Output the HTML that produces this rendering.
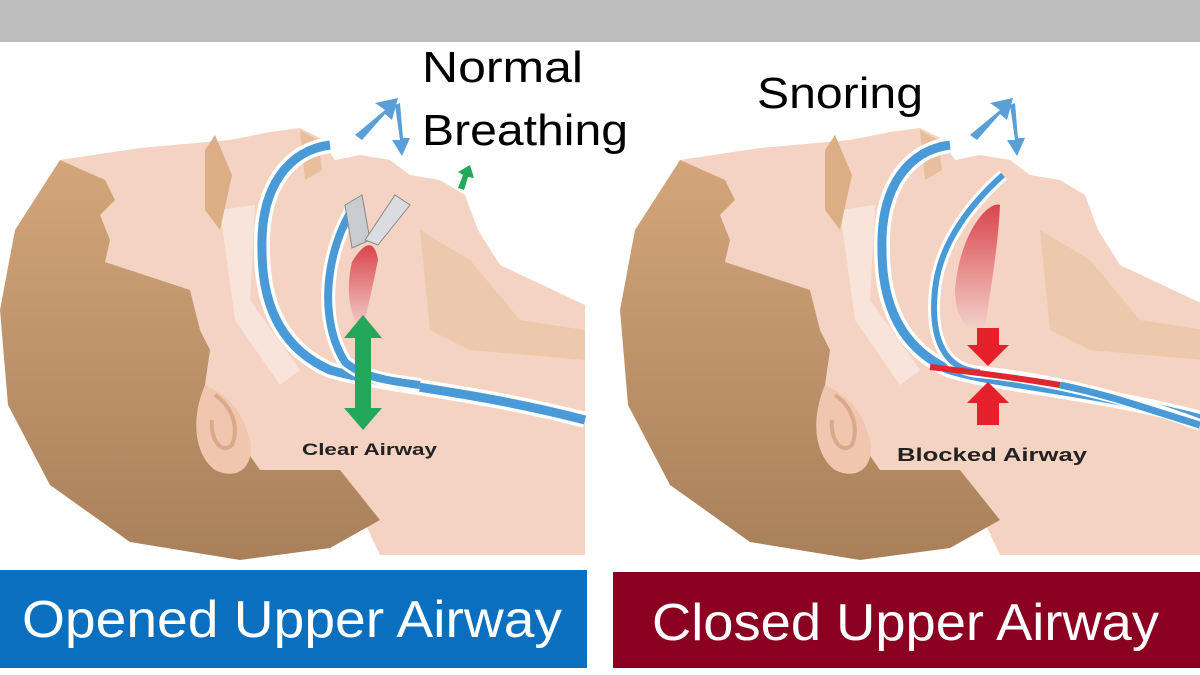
<!DOCTYPE html>
<html><head><meta charset="utf-8"><style>
html,body{margin:0;padding:0;background:#fff;width:1200px;height:675px;overflow:hidden}
svg{display:block}
</style></head><body>
<svg width="1200" height="675" viewBox="0 0 1200 675" xmlns="http://www.w3.org/2000/svg">
<defs>
<linearGradient id="hair" x1="0" y1="0" x2="0" y2="1"><stop offset="0" stop-color="#d3a57a"/><stop offset="1" stop-color="#a8805a"/></linearGradient>
<linearGradient id="red" x1="0" y1="0" x2="0" y2="1"><stop offset="0" stop-color="#d9454c"/><stop offset="1" stop-color="#f3d3cc"/></linearGradient>
<g id="head">
  <path d="M60,160 L140,148 L230,140 L270,132 L300,128 L320,138 L335,160 L360,155 L390,160 L410,175 L440,180 L465,195 L478,230 L500,265 L585,305 L585,555 L380,555 L340,470 L200,480 L100,300 Z" fill="#f5d3c3"/>
  <path d="M420,230 L470,260 L520,320 L585,330 L585,360 L470,350 L430,330 Z" fill="#ecc9ac"/>
  <path d="M220,210 L255,205 L250,300 L300,370 L280,385 L235,320 Z" fill="#f9e4dc"/>
  <path d="M60,160 L105,180 L115,200 L100,215 L110,240 L105,262 L190,290 L200,330 L210,350 L205,385 L225,420 L260,470 L340,470 L380,520 L330,548 L240,560 L130,542 L50,485 L8,405 L0,310 L15,230 Z" fill="url(#hair)"/>
  <path d="M205,385 C215,390 240,400 250,440 C255,470 235,480 215,470 C195,455 190,420 205,385 Z" fill="#f0c6ae"/>
  <path d="M215,395 C230,405 240,425 232,445 C222,455 210,440 212,420" fill="none" stroke="#d9a98a" stroke-width="4"/>
  <path d="M205,150 L215,135 L232,175 L220,230 L205,210 Z" fill="#dcae86"/>
  <path d="M300,130 L318,140 L322,170 L305,180 Z" fill="#e8bf9d"/>
  <path d="M330,145 C290,150 260,185 262,250 C262,310 285,350 330,370 C380,385 470,390 585,420" fill="none" stroke="#fff" stroke-width="16"/>
  <path d="M330,145 C290,150 260,185 262,250 C262,310 285,350 330,370 C380,385 470,390 585,420" fill="none" stroke="#4a9ad8" stroke-width="9"/>
</g>
</defs>

<rect x="0" y="0" width="1200" height="42" fill="#bdbdbd"/>

<use href="#head"/>
<path d="M355,205 C325,250 318,320 345,362 C360,375 380,380 420,385" fill="none" stroke="#fff" stroke-width="14"/>
<path d="M355,205 C325,250 318,320 345,362 C360,375 380,380 420,385" fill="none" stroke="#4a9ad8" stroke-width="8"/>
<path d="M352,262 C365,240 375,240 378,260 C372,290 365,320 362,330 C350,320 345,290 352,262 Z" fill="url(#red)"/>
<path d="M345,205 L362,195 L370,240 L352,248 Z" fill="#c9ccd0" stroke="#888" stroke-width="1"/>
<path d="M395,195 L410,205 L378,245 L365,240 Z" fill="#dadcdf" stroke="#888" stroke-width="1"/>
<path d="M355,135 L385,110 L375,103 L398,98 L392,120 L385,114 L362,140 Z" fill="#5a9fd8"/>
<path d="M395,105 L400,140 L392,140 L402,156 L410,138 L403,138 L400,103 Z" fill="#5a9fd8"/>
<path d="M458,188 L463,175 L458,172 L470,165 L474,178 L468,177 L464,190 Z" fill="#23a85b"/>
<path d="M363,315 L382,338 L371,338 L371,408 L382,408 L363,430 L344,408 L355,408 L355,338 L344,338 Z" fill="#23a85b"/>
<text x="302" y="455" font-family="Liberation Sans, sans-serif" font-weight="bold" font-size="17" fill="#222" textLength="135" lengthAdjust="spacingAndGlyphs">Clear Airway</text>
<text x="422" y="82" font-family="Liberation Sans, sans-serif" font-size="44" fill="#000" textLength="161" lengthAdjust="spacingAndGlyphs">Normal</text>
<text x="422" y="145" font-family="Liberation Sans, sans-serif" font-size="44" fill="#000" textLength="206" lengthAdjust="spacingAndGlyphs">Breathing</text>

<g transform="translate(620,0)"><use href="#head"/></g>
<path d="M1003,175 C975,200 940,240 935,290 C930,340 945,370 980,372 C1040,378 1120,395 1200,425" fill="none" stroke="#fff" stroke-width="12"/>
<path d="M1003,175 C975,200 940,240 935,290 C930,340 945,370 980,372" fill="none" stroke="#4a9ad8" stroke-width="6"/>
<path d="M930,367 C970,372 1000,375 1060,385" fill="none" stroke="#e0262e" stroke-width="6"/>
<path d="M1060,385 C1110,395 1150,410 1200,425" fill="none" stroke="#4a9ad8" stroke-width="7"/>
<path d="M955,290 C960,230 990,200 1000,205 C998,250 990,290 985,330 C970,335 955,320 955,290 Z" fill="url(#red)"/>
<path d="M970,135 L1000,110 L990,103 L1013,98 L1007,120 L1000,114 L977,140 Z" fill="#5a9fd8"/>
<path d="M1010,105 L1015,140 L1007,140 L1017,156 L1025,138 L1018,138 L1015,103 Z" fill="#5a9fd8"/>
<path d="M977,328 L999,328 L999,345 L1009,345 L988,366 L967,345 L977,345 Z" fill="#e5202a"/>
<path d="M988,382 L1009,403 L999,403 L999,425 L977,425 L977,403 L967,403 Z" fill="#e5202a"/>
<text x="897" y="461" font-family="Liberation Sans, sans-serif" font-weight="bold" font-size="18" fill="#222" textLength="190" lengthAdjust="spacingAndGlyphs">Blocked Airway</text>
<text x="757" y="108" font-family="Liberation Sans, sans-serif" font-size="44" fill="#000" textLength="166" lengthAdjust="spacingAndGlyphs">Snoring</text>

<rect x="0" y="570" width="587" height="98" fill="#0b6fc0"/>
<text x="22" y="637" font-family="Liberation Sans, sans-serif" font-size="52" fill="#fff" textLength="540" lengthAdjust="spacingAndGlyphs">Opened Upper Airway</text>
<rect x="613" y="572" width="587" height="96" fill="#8b0020"/>
<text x="652" y="640" font-family="Liberation Sans, sans-serif" font-size="52" fill="#fff" textLength="507" lengthAdjust="spacingAndGlyphs">Closed Upper Airway</text>
</svg>
</body></html>
